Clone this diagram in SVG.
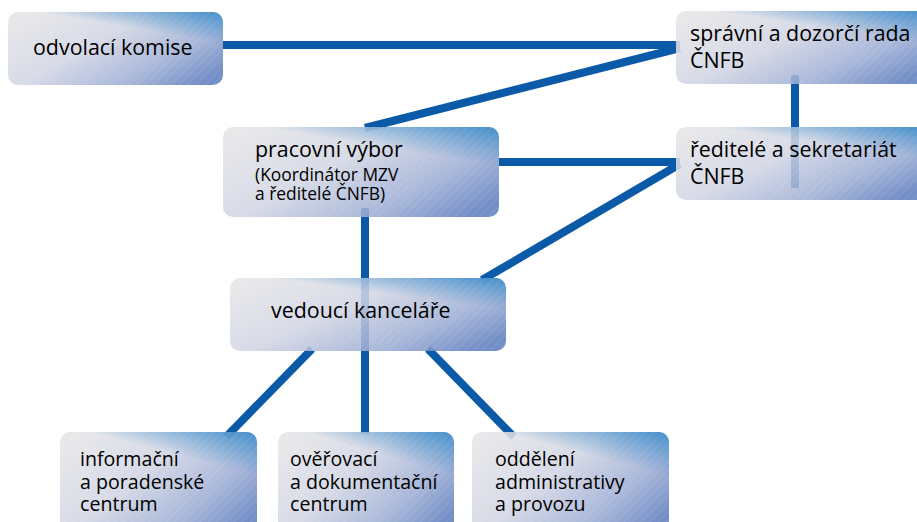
<svg xmlns="http://www.w3.org/2000/svg" width="917" height="522" viewBox="0 0 917 522">
<defs>
<linearGradient id="g" x1="0" y1="0.2" x2="1" y2="0.8">
<stop offset="0" stop-color="#e4e4e7"/>
<stop offset="0.4" stop-color="#d0d4e3"/>
<stop offset="0.75" stop-color="#9aabd3"/>
<stop offset="1" stop-color="#5d7dbe"/>
</linearGradient>
<linearGradient id="c" x1="1" y1="0" x2="0.82" y2="0.35">
<stop offset="0" stop-color="#2f86c8" stop-opacity="0.85"/>
<stop offset="1" stop-color="#2f86c8" stop-opacity="0"/>
</linearGradient>
<pattern id="h" width="6" height="6" patternUnits="userSpaceOnUse" patternTransform="rotate(45)">
<line x1="0" y1="0" x2="0" y2="6" stroke="#ffffff" stroke-opacity="0.18" stroke-width="1"/>
</pattern>
</defs>
<style>
.box{fill:url(#g);fill-opacity:0.86}
.cor{fill:url(#c)}
.hat{fill:url(#h)}
.ln{stroke:#0b5aa8;stroke-width:8;fill:none}
text{font-family:"Open Sans","Noto Sans",sans-serif;fill:#000;font-size:21.4px}
.s{font-size:17.4px}
.b{font-size:19.6px}
</style>
<g id="connectors">
<line class="ln" x1="223" y1="45" x2="680" y2="45"/>
<line class="ln" x1="365" y1="128" x2="680" y2="48"/>
<line class="ln" x1="795" y1="75" x2="795" y2="188"/>
<line class="ln" x1="499" y1="162" x2="680" y2="162"/>
<line class="ln" x1="680" y1="164" x2="482" y2="280"/>
<line class="ln" x1="365" y1="208" x2="365" y2="434"/>
<line class="ln" x1="312" y1="349" x2="226" y2="437"/>
<line class="ln" x1="428" y1="349" x2="514" y2="437"/>
</g>
<g id="odvolaci">
<rect class="box" x="8" y="12" width="215" height="73" rx="10"/>
<rect class="cor" x="8" y="12" width="215" height="73" rx="10"/>
<rect class="hat" x="8" y="12" width="215" height="73" rx="10"/>
<text x="33" y="55">odvolací komise</text>
</g>
<g id="spravni">
<rect class="box" x="676" y="11" width="250" height="73" rx="10"/>
<rect class="cor" x="676" y="11" width="250" height="73" rx="10"/>
<rect class="hat" x="676" y="11" width="250" height="73" rx="10"/>
<text x="690" y="41">správní a dozorčí rada</text>
<text x="690" y="68">ČNFB</text>
</g>
<g id="reditele">
<rect class="box" x="676" y="127" width="250" height="73" rx="10"/>
<rect class="cor" x="676" y="127" width="250" height="73" rx="10"/>
<rect class="hat" x="676" y="127" width="250" height="73" rx="10"/>
<text x="690" y="157">ředitelé a sekretariát</text>
<text x="690" y="184">ČNFB</text>
</g>
<g id="pracovni">
<rect class="box" x="223" y="127" width="276" height="90" rx="10"/>
<rect class="cor" x="223" y="127" width="276" height="90" rx="10"/>
<rect class="hat" x="223" y="127" width="276" height="90" rx="10"/>
<text x="255" y="157">pracovní výbor</text>
<text class="s" x="255" y="181">(Koordinátor MZV</text>
<text class="s" x="255" y="200">a ředitelé ČNFB)</text>
</g>
<g id="vedouci">
<rect class="box" x="230" y="278" width="276" height="73" rx="10"/>
<rect class="cor" x="230" y="278" width="276" height="73" rx="10"/>
<rect class="hat" x="230" y="278" width="276" height="73" rx="10"/>
<text x="271" y="318">vedoucí kanceláře</text>
</g>
<g id="informacni">
<rect class="box" x="60" y="432" width="197" height="100" rx="10"/>
<rect class="cor" x="60" y="432" width="197" height="100" rx="10"/>
<rect class="hat" x="60" y="432" width="197" height="100" rx="10"/>
<text class="b" x="80" y="466">informační</text>
<text class="b" x="80" y="489">a poradenské</text>
<text class="b" x="80" y="511">centrum</text>
</g>
<g id="overovaci">
<rect class="box" x="278" y="432" width="176" height="100" rx="10"/>
<rect class="cor" x="278" y="432" width="176" height="100" rx="10"/>
<rect class="hat" x="278" y="432" width="176" height="100" rx="10"/>
<text class="b" x="290" y="466">ověřovací</text>
<text class="b" x="290" y="489">a dokumentační</text>
<text class="b" x="290" y="511">centrum</text>
</g>
<g id="oddeleni">
<rect class="box" x="472" y="432" width="197" height="100" rx="10"/>
<rect class="cor" x="472" y="432" width="197" height="100" rx="10"/>
<rect class="hat" x="472" y="432" width="197" height="100" rx="10"/>
<text class="b" x="495" y="466">oddělení</text>
<text class="b" x="495" y="489">administrativy</text>
<text class="b" x="495" y="511">a provozu</text>
</g>
</svg>
